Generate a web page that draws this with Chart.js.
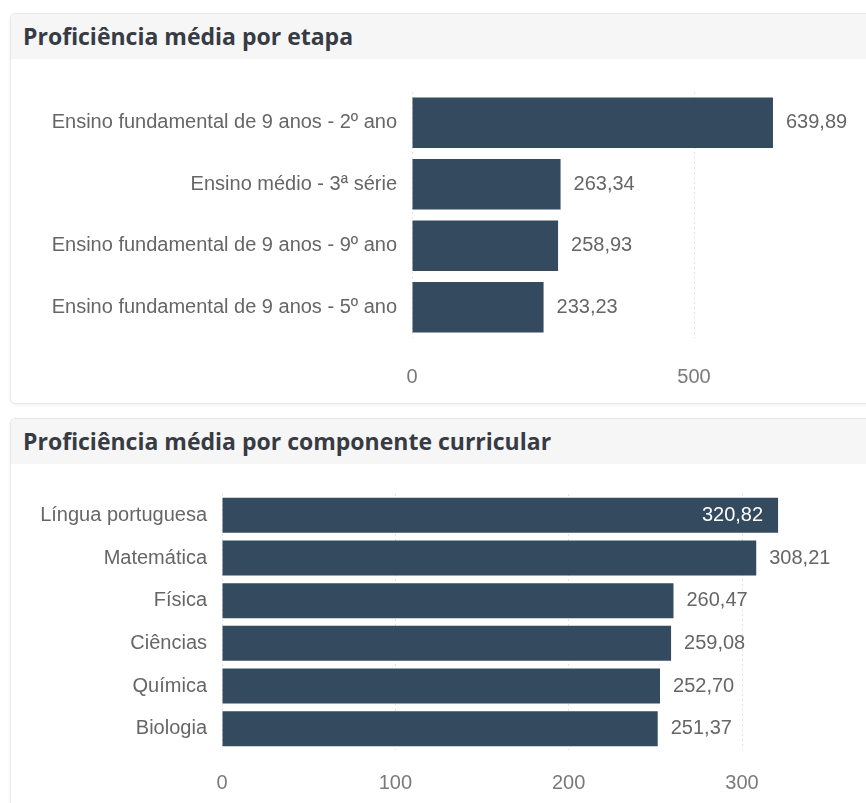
<!DOCTYPE html>
<html>
<head>
<meta charset="utf-8">
<script src="https://cdn.jsdelivr.net/npm/chart.js@4"></script>
<style>
  body { margin: 0; background: #fff; width: 866px; height: 803px; overflow: hidden; position: relative; }
  .card {
    position: absolute; left: 10px; width: 880px;
    border: 1px solid #e8e8e8; border-radius: 5px;
    box-shadow: 0 1px 3px rgba(0,0,0,0.06); background: #fff;
  }
  .card .title {
    height: 45px; line-height: 45px; background: #f6f6f6;
    padding-left: 12px; border-radius: 5px 5px 0 0;
    font-family: "Open Sans", sans-serif; font-weight: 700; font-size: 23px; color: #363b44;
  }
  canvas { position: absolute; }
</style>
</head>
<body>
<div class="card" style="top:13px; height:389px;"><div class="title">Proficiência média por etapa</div></div>
<div class="card" style="top:418px; height:400px;"><div class="title">Proficiência média por componente curricular</div></div>
<canvas id="etapaChart" width="856" height="330" style="left:10px; top:62px;"></canvas>
<canvas id="compChart" width="856" height="336" style="left:10px; top:467px;"></canvas>
<script>
// proficiência por etapa
const etapaLabels = ['Ensino fundamental de 9 anos - 2º ano', 'Ensino médio - 3ª série', 'Ensino fundamental de 9 anos - 9º ano', 'Ensino fundamental de 9 anos - 5º ano'];
const etapaValues = [639.89, 263.34, 258.93, 233.23];
const etapaTicks = [0, 500];

// proficiência por componente curricular
const compLabels = ['Língua portuguesa', 'Matemática', 'Física', 'Ciências', 'Química', 'Biologia'];
const compValues = [320.82, 308.21, 260.47, 259.08, 252.70, 251.37];
const compTicks = [0, 100, 200, 300];

const barColor = '#344a5f';
const labelFont = 'Arial, "Liberation Sans", sans-serif';
const fmt = v => v.toFixed(2).replace('.', ',');

// escreve o valor na ponta da barra (dentro, em branco, se não couber)
const valueLabels = {
  id: 'valueLabels',
  afterDatasetsDraw(chart) {
    const c = chart.ctx;
    const area = chart.chartArea;
    const meta = chart.getDatasetMeta(0);
    c.save();
    c.font = '20px ' + labelFont;
    c.textBaseline = 'middle';
    meta.data.forEach((bar, i) => {
      const txt = fmt(chart.data.datasets[0].data[i]);
      const w = c.measureText(txt).width;
      if (bar.x + 13 + w > area.right) {
        c.fillStyle = '#ffffff';
        c.textAlign = 'right';
        c.fillText(txt, bar.x - 15, bar.y);
      } else {
        c.fillStyle = '#666666';
        c.textAlign = 'left';
        c.fillText(txt, bar.x + 13, bar.y);
      }
    });
    c.restore();
  }
};

function makeChart(el, labels, values, ticks, opts) {
  return new Chart(el, {
    type: 'bar',
    data: {
      labels: labels,
      datasets: [{
        data: values,
        backgroundColor: barColor,
        categoryPercentage: 1,
        barPercentage: 0.82
      }]
    },
    options: {
      indexAxis: 'y',
      responsive: false,
      animation: false,
      layout: { padding: { top: opts.top, right: opts.right, left: 0, bottom: 0 } },
      plugins: { legend: { display: false }, tooltip: { enabled: false } },
      scales: {
        x: {
          min: 0,
          max: opts.max,
          afterBuildTicks: s => { s.ticks = ticks.map(v => ({ value: v })); },
          afterFit: s => { s.height = opts.xHeight; },
          border: { display: false, dash: [2, 3] }, // grade pontilhada
          grid: { color: '#e2e2e2', drawTicks: false, lineWidth: 1 },
          ticks: {
            padding: opts.tickPad,
            color: '#7a7a7a',
            font: { family: labelFont, size: 20 }
          }
        },
        y: {
          afterFit: s => { s.width = opts.yWidth; },
          border: { display: false },
          grid: { display: false, drawTicks: false },
          ticks: {
            padding: 15,
            color: '#666666',
            font: { family: labelFont, size: 20 }
          }
        }
      }
    },
    plugins: [valueLabels]
  });
}

makeChart(document.getElementById('etapaChart'), etapaLabels, etapaValues, etapaTicks,
  { top: 30, right: 14, max: 780, xHeight: 54, tickPad: 27, yWidth: 402 });
makeChart(document.getElementById('compChart'), compLabels, compValues, compTicks,
  { top: 27, right: 20, max: 360, xHeight: 53, tickPad: 21, yWidth: 212 });
</script>
</body>
</html>
